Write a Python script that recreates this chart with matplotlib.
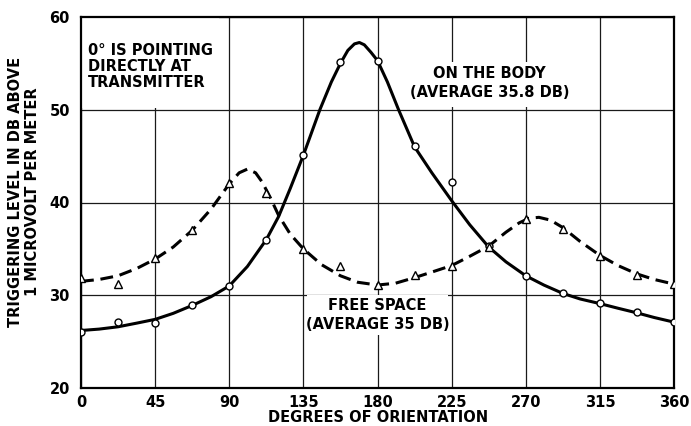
import matplotlib
matplotlib.use("Agg")
import matplotlib.pyplot as plt
from matplotlib.patches import Rectangle

plt.rcParams['font.family'] = ['DejaVu Sans']
plt.rcParams['font.weight'] = 'bold'

# ----------------------------------------------------------------------
# data
# ----------------------------------------------------------------------
angles = [0, 22.5, 45, 67.5, 90, 112.5, 135, 157.5, 180,
          202.5, 225, 247.5, 270, 292.5, 315, 337.5, 360]

# measured points (circles = on the body, triangles = free space)
body_pts = [26.0, 27.1, 27.0, 29.0, 31.0, 36.0, 45.1, 55.2, 55.3,
            46.1, 42.2, 35.3, 32.1, 30.2, 29.2, 28.2, 27.1]
free_pts = [31.9, 31.2, 34.0, 37.0, 42.1, 41.0, 35.0, 33.2, 31.1,
            32.2, 33.2, 35.2, 38.2, 37.1, 34.2, 32.2, 31.2]

# faired curves as drawn in the figure
body_curve_x = [0, 11, 22.5, 34, 45, 56, 67.5, 79, 90, 101, 112.5, 120, 127, 135, 145, 152,
                157.5, 162, 166, 169, 172, 176, 180, 186, 192.8, 202.5, 213,
                225, 236, 247.5, 258, 270, 281, 292.5, 303, 315, 326, 337.5, 348, 360]
body_curve_y = [26.2, 26.35, 26.6, 27.0, 27.4, 28.05, 28.9, 29.85, 31.0, 33.1, 36.0, 38.5, 41.5, 45.1, 50.0, 53.0,
                55.0, 56.4, 57.1, 57.25, 57.0, 56.2, 55.3, 53.0, 50.0, 46.0, 43.2,
                40.2, 37.6, 35.2, 33.6, 32.1, 31.1, 30.2, 29.6, 29.1, 28.6, 28.1, 27.6, 27.1]

free_curve_x = [0, 11, 22.5, 34, 45, 56, 67.5, 79, 90, 96, 101, 106, 110, 115,
                120, 127, 135, 146, 157.5, 168, 180, 191, 202.5, 213, 225, 236,
                247.5, 258, 266, 272, 278, 285, 292.5, 303, 315, 326, 337.5, 348, 360]
free_curve_y = [31.5, 31.7, 32.1, 32.9, 33.9, 35.2, 37.0, 39.3, 42.0, 43.2, 43.6, 43.2, 42.2, 40.5,
                38.6, 36.6, 35.0, 33.3, 32.1, 31.4, 31.1, 31.3, 31.9, 32.5, 33.2, 34.2,
                35.3, 36.8, 37.8, 38.3, 38.4, 38.1, 37.3, 35.8, 34.3, 33.2, 32.3, 31.7, 31.2]

x_ticks = [0, 45, 90, 135, 180, 225, 270, 315, 360]
y_ticks = [20, 30, 40, 50, 60]

# ----------------------------------------------------------------------
# figure
# ----------------------------------------------------------------------
fig = plt.figure(figsize=(6.91, 4.26), dpi=100)
ax = fig.add_axes([81 / 691, 38 / 426, 593 / 691, 371 / 426])

ax.set_xlim(0, 360)
ax.set_ylim(20, 60)
ax.set_xticks(x_ticks)
ax.set_yticks(y_ticks)
ax.tick_params(length=0, labelsize=10.5, pad=5)
ax.tick_params(axis='y', pad=8)
ax.set_axisbelow(True)
ax.grid(True, color='#1a1a1a', linewidth=0.9)
for s in ax.spines.values():
    s.set_linewidth(1.6)

# white areas behind the labels (grid is cut there)
for (x0, y0, w, h) in [(0, 50.2, 84, 9.8), (194, 50.3, 106, 4.9), (137, 25.7, 86, 4.3)]:
    ax.add_patch(Rectangle((x0, y0), w, h, facecolor='white', edgecolor='none', zorder=1))

ax.plot(body_curve_x, body_curve_y, color='black', linewidth=2.2, zorder=3,
        solid_capstyle='round', solid_joinstyle='round')
ax.plot(free_curve_x, free_curve_y, color='black', linewidth=2.2, zorder=3,
        linestyle=(0, (4.2, 2.2)))

ax.plot(angles, body_pts, linestyle='none', marker='o', markersize=5,
        markerfacecolor='white', markeredgecolor='black', markeredgewidth=1.0, zorder=4)
ax.plot(angles, free_pts, linestyle='none', marker='^', markersize=5.5,
        markerfacecolor='white', markeredgecolor='black', markeredgewidth=1.0, zorder=4)

txt = dict(fontsize=10.5, color='black', zorder=5)
ax.text(4, 57.2, '0° IS POINTING\nDIRECTLY AT\nTRANSMITTER', ha='left', va='top',
        linespacing=1.1, **txt)
ax.text(248, 52.9, 'ON THE BODY\n(AVERAGE 35.8 DB)', ha='center', va='center',
        multialignment='center', linespacing=1.35, **txt)
ax.text(180, 27.9, 'FREE SPACE\n(AVERAGE 35 DB)', ha='center', va='center',
        multialignment='center', linespacing=1.3, **txt)

fig.text(24 / 691, 1 - 192 / 426, 'TRIGGERING LEVEL IN DB ABOVE\n1 MICROVOLT PER METER',
         rotation=90, ha='center', va='center', multialignment='center',
         fontsize=10.5, linespacing=1.1)
fig.text(378 / 691, 1 - 418 / 426, 'DEGREES OF ORIENTATION', ha='center', va='center',
         fontsize=10.5)

fig.savefig('out.png', dpi=100)
